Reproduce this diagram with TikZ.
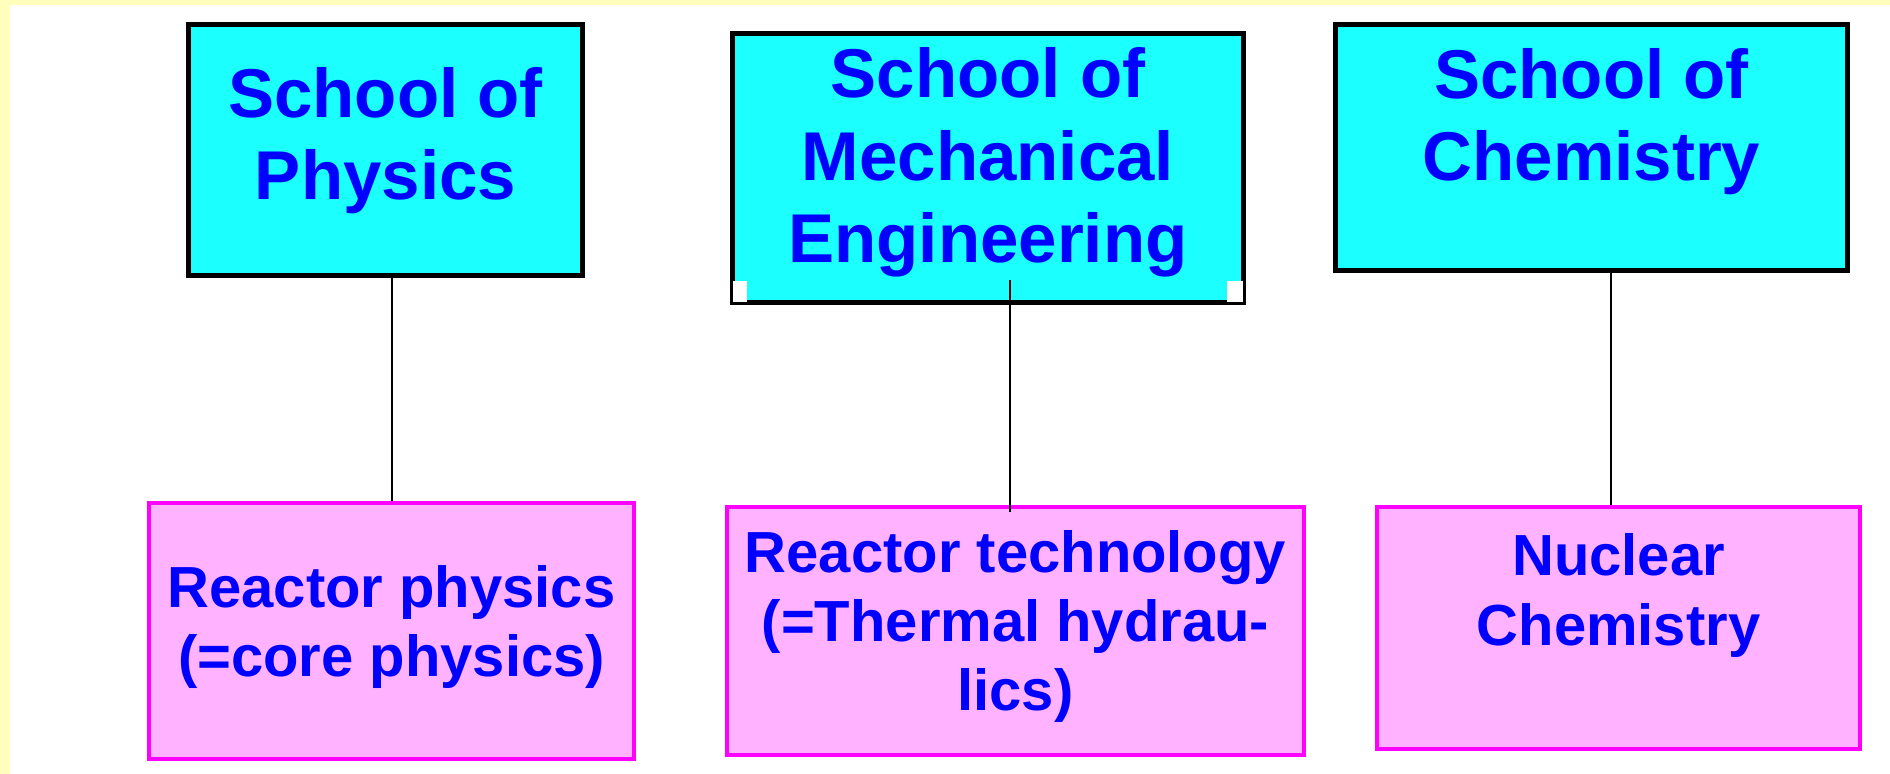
\documentclass[tikz,border=0pt]{standalone}
\usepackage{fontspec}
\setmainfont{Liberation Sans}
\usetikzlibrary{positioning, calc}
\definecolor{schoolcyan}{RGB}{28,255,255}
\definecolor{topicpink}{RGB}{255,178,255}
\definecolor{topicline}{RGB}{255,0,255}
\definecolor{slideyellow}{RGB}{255,255,187}
\definecolor{labelblue}{RGB}{0,0,255}
\tikzset{
    school/.style={rectangle, draw=black, fill=schoolcyan, line width=0.1cm, inner sep=0pt},
    topic/.style={rectangle, draw=topicline, fill=topicpink, line width=0.09cm, inner sep=0pt},
    schooltext/.style={text=labelblue, align=center, inner sep=0pt, font=\bfseries\fontsize{39.3}{47}\selectfont},
    topictext/.style={text=labelblue, align=center, inner sep=0pt, font=\bfseries\fontsize{33}{39.5}\selectfont},
    link/.style={draw=black, line width=0.04cm},
}

\begin{document}
\begin{tikzpicture}[x=0.02cm, y=-0.02cm]
    % slide background
    \fill[slideyellow] (0,0) rectangle (1890,774);
    \fill[white] (10,5) rectangle (1890,774);
    \useasboundingbox (0,0) rectangle (1890,774);

    % schools
    \node[school, minimum width=7.88cm, minimum height=5.02cm] (physics) at (385.5,150) {};
    \node[school, minimum width=10.22cm, minimum height=5.38cm] (mechanical) at (988,168) {};
    \node[school, minimum width=10.24cm, minimum height=4.92cm] (chemistry) at (1591.5,147.5) {};
    \fill[white] ([shift={(0.05cm,0.05cm)}]mechanical.south west) rectangle ([shift={(0.33cm,0.47cm)}]mechanical.south west);
    \fill[white] ([shift={(-0.05cm,0.05cm)}]mechanical.south east) rectangle ([shift={(-0.37cm,0.47cm)}]mechanical.south east);

    \node[schooltext] (physicsText) at ([yshift=0.19cm]physics.center) {School of\\Physics};
    \node[schooltext] (mechanicalText) at ([yshift=0.11cm]mechanical.center) {School of\\Mechanical\\Engineering};
    \node[schooltext] (chemistryText) at ([yshift=0.52cm]chemistry.center) {School of\\Chemistry};

    % subjects
    \node[topic, minimum width=9.7cm, minimum height=5.12cm] (reactorPhys) at (391.5,631) {};
    \node[topic, minimum width=11.54cm, minimum height=4.96cm] (reactorTech) at (1015.5,631) {};
    \node[topic, minimum width=9.66cm, minimum height=4.84cm] (nuclearChem) at (1618.5,628) {};

    \node[topictext] (reactorPhysText) at ([yshift=0.08cm]reactorPhys.center) {Reactor physics\\(=core physics)};
    \node[topictext] (reactorTechText) at ([yshift=0.09cm]reactorTech.center) {Reactor technology\\(=Thermal hydrau-\\lics)};
    \node[topictext] (nuclearChemText) at ([yshift=0.65cm]nuclearChem.center) {Nuclear\\Chemistry};

    % links
    \coordinate (techTop) at ([xshift=-0.11cm]reactorTech.north);
    \coordinate (chemTop) at ([xshift=-0.15cm]nuclearChem.north);
    \draw[link] (physics.south -| reactorPhys.north) -- (reactorPhys.north);
    \draw[link] ([yshift=0.5cm]techTop |- mechanical.south) -- ([yshift=-0.14cm]techTop);
    \draw[link] (chemTop |- chemistry.south) -- (chemTop);
\end{tikzpicture}
\end{document}
